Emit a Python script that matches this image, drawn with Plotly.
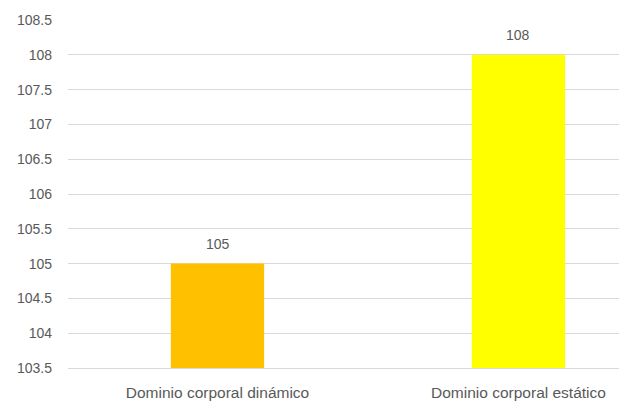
import plotly.graph_objects as go

categories = ["Dominio corporal dinámico", "Dominio corporal estático"]
values = [105, 108]
colors = ["#FFC000", "#FFFF00"]
tick_vals = [103.5, 104, 104.5, 105, 105.5, 106, 106.5, 107, 107.5, 108, 108.5]
tick_text = ["103.5", "104", "104.5", "105", "105.5", "106", "106.5", "107", "107.5", "108", "108.5"]
base_val = 103.5

font_fam = "Liberation Sans, Arial"
fig = go.Figure(go.Bar(
    x=categories, y=[v - base_val for v in values], base=base_val,
    marker=dict(color=colors, line=dict(width=0)),
    width=0.31, cliponaxis=False,
))
for c, v in zip(categories, values):
    fig.add_annotation(x=c, y=v, text=str(v), showarrow=False, yanchor="bottom",
                       yshift=10, font=dict(family=font_fam, size=14, color="#595959"))
fig.update_layout(
    width=619, height=401, margin=dict(l=68, r=0, t=20, b=33),
    paper_bgcolor="white", plot_bgcolor="white", showlegend=False,
    xaxis=dict(range=[-0.4967, 1.334], showgrid=False, showline=True, linecolor="#D9D9D9",
               linewidth=1, ticks="", tickfont=dict(family=font_fam, size=15.5, color="#595959"),
               ticklabelstandoff=10),
    yaxis=dict(range=[103.5, 108.5], tickvals=tick_vals, ticktext=tick_text,
               showgrid=True, gridcolor="#D9D9D9", gridwidth=1, zeroline=False,
               showline=False, ticks="", ticklabelstandoff=15,
               tickfont=dict(family=font_fam, size=14, color="#595959")),
)
fig.write_html("out.html")
